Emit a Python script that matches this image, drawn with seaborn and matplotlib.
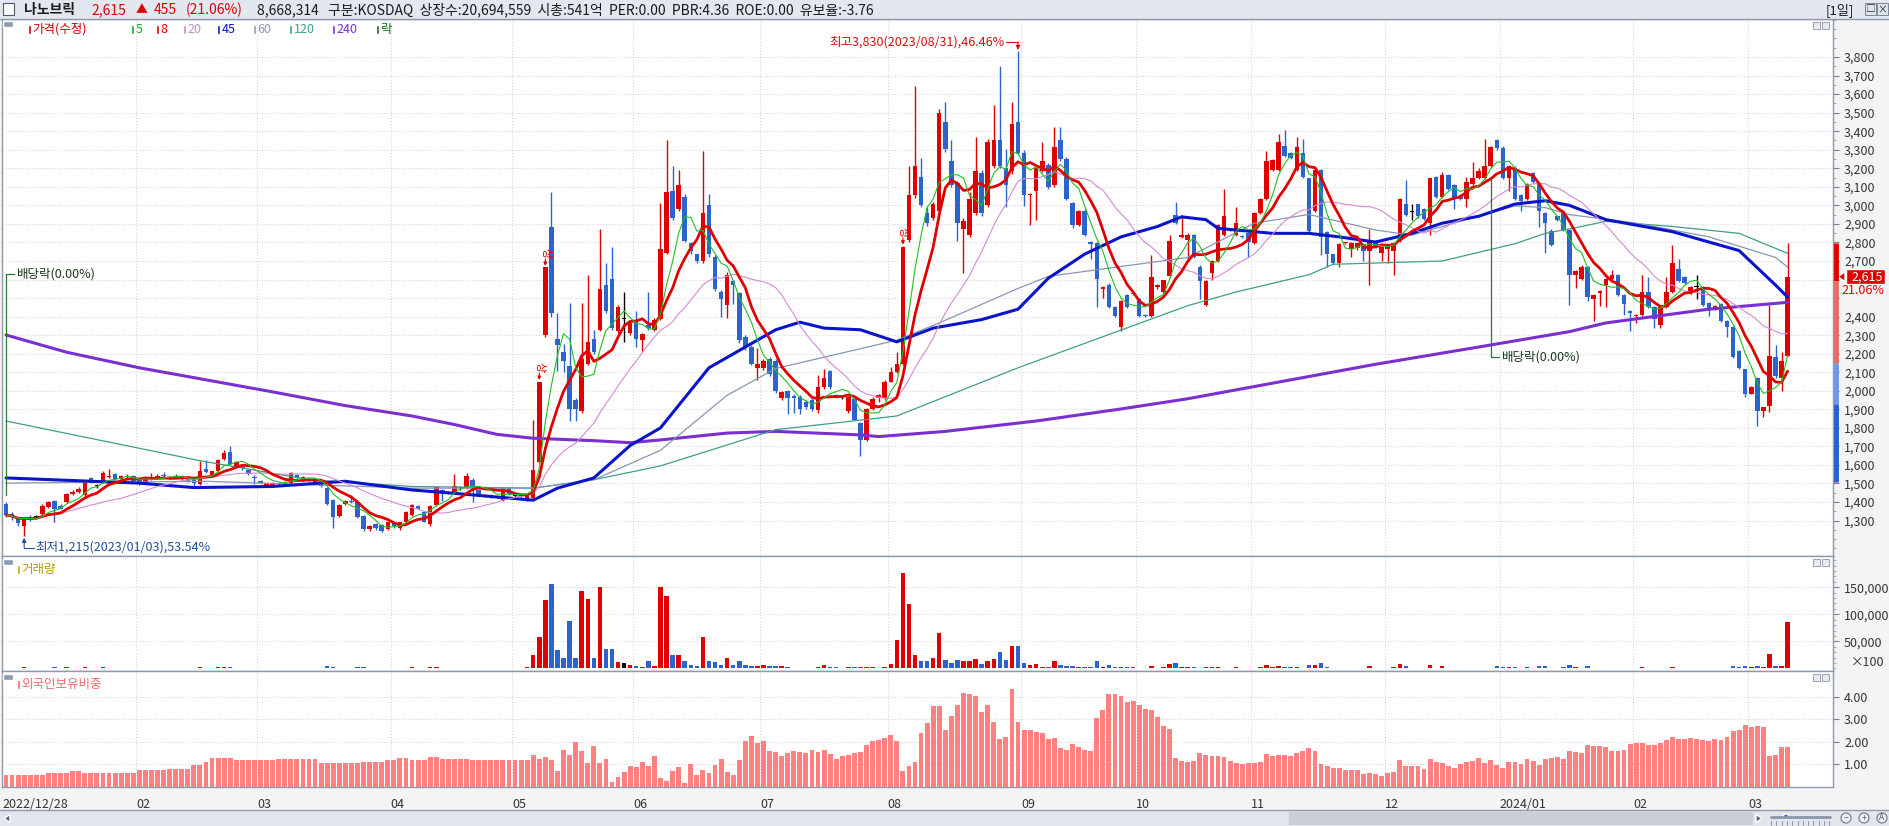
import numpy as np
import pandas as pd
import matplotlib
matplotlib.use("Agg")
import matplotlib.pyplot as plt
from matplotlib.patches import Rectangle, Polygon, Circle
from matplotlib.ticker import FixedLocator, MultipleLocator, FuncFormatter
import seaborn as sns

# ---------------- data ----------------
stock_name = "나노브릭"
header_info = "8,668,314   구분:KOSDAQ  상장수:20,694,559  시총:541억  PER:0.00  PBR:4.36  ROE:0.00  유보율:-3.76"

opens = [
    1390, 1335, 1315, 1270, 1320, 1320, 1335, 1375, 1405, 1380,
    1400, 1445, 1455, 1440, 1530, 1485, 1505, 1535, 1550, 1525,
    1535, 1540, 1520, 1500, 1525, 1535, 1545, 1530, 1535, 1540,
    1530, 1520, 1495, 1580, 1540, 1565, 1630, 1670, 1595, 1590,
    1575, 1535, 1515, 1485, 1485, 1495, 1490, 1500, 1545, 1520,
    1520, 1520, 1505, 1475, 1410, 1325, 1390, 1405, 1400, 1325,
    1255, 1280, 1275, 1255, 1285, 1260, 1290, 1330, 1380, 1345,
    1280, 1385, 1465, 1450, 1455, 1475, 1475, 1520, 1465, 1430,
    1440, 1430, 1410, 1475, 1430, 1445, 1410, 1420, 1615, 2300,
    2885, 2280, 2210, 2135, 1950, 1890, 2145, 2280, 2330, 2570,
    2605, 2320, 2385, 2310, 2375, 2275, 2355, 2330, 2385, 2745,
    3080, 2980, 3045, 2795, 2735, 2700, 3000, 2720, 2535, 2460,
    2590, 2525, 2290, 2235, 2125, 2125, 2170, 2160, 1960, 2000,
    1970, 1965, 1940, 1950, 1895, 2020, 2105, 1975, 1965, 1890,
    1955, 1825, 1735, 1900, 1960, 1960, 2050, 2100, 2145, 2815,
    3055, 3155, 2960, 2930, 2970, 3450, 3240, 3120, 2875, 2840,
    2960, 3175, 3000, 3210, 3350, 3200, 3185, 3450, 3285, 3055,
    3080, 3185, 3220, 3110, 3350, 3250, 3015, 2895, 2970, 2800,
    2795, 2550, 2570, 2450, 2345, 2515, 2525, 2495, 2410, 2405,
    2560, 2535, 2620, 2950, 2830, 2815, 2840, 2670, 2460, 2635,
    2700, 2840, 2875, 2840, 2835, 2850, 2795, 2960, 3035, 3190,
    3190, 3320, 3285, 3190, 3285, 3145, 2970, 3190, 2855, 2735,
    2690, 2795, 2765, 2770, 2790, 2755, 2810, 2745, 2765, 2755,
    2810, 3005, 2965, 3005, 2980, 2905, 3155, 3045, 3165, 3110,
    3050, 3035, 3115, 3145, 3145, 3210, 3350, 3310, 3145, 3200,
    3055, 3035, 3175, 3120, 2960, 2860, 2940, 2960, 2865, 2625,
    2605, 2670, 2495, 2525, 2570, 2605, 2625, 2515, 2430, 2405,
    2410, 2535, 2450, 2355, 2450, 2535, 2655, 2615, 2525, 2560,
    2560, 2475, 2440, 2470, 2375, 2345, 2215, 2115, 1985, 2070,
    1890, 1920, 2180, 2070, 2190,
]
highs = [
    1400, 1345, 1320, 1320, 1330, 1330, 1390, 1405, 1410, 1390,
    1450, 1465, 1480, 1510, 1535, 1495, 1565, 1580, 1555, 1545,
    1550, 1545, 1525, 1535, 1555, 1550, 1560, 1540, 1550, 1545,
    1535, 1525, 1620, 1625, 1570, 1630, 1680, 1700, 1620, 1600,
    1580, 1545, 1520, 1505, 1510, 1510, 1515, 1560, 1550, 1540,
    1530, 1525, 1510, 1480, 1415, 1390, 1410, 1440, 1405, 1330,
    1275, 1285, 1280, 1295, 1290, 1295, 1350, 1390, 1385, 1350,
    1385, 1485, 1470, 1460, 1550, 1485, 1555, 1530, 1470, 1445,
    1445, 1435, 1480, 1480, 1440, 1450, 1440, 1845, 2050, 2665,
    3070, 2420, 2250, 2475, 1960, 2475, 2625, 2330, 2875, 2690,
    2775, 2460, 2535, 2375, 2430, 2310, 2535, 2390, 3015, 3350,
    3210, 3190, 3060, 2800, 2740, 3295, 3060, 2730, 2545, 2640,
    2600, 2535, 2300, 2245, 2230, 2170, 2180, 2170, 2000, 2005,
    1980, 1975, 1950, 1960, 2085, 2115, 2110, 1980, 1975, 1970,
    1960, 1830, 1905, 1965, 1980, 2060, 2130, 2210, 2780, 3210,
    3645, 3255, 2990, 3020, 3520, 3555, 3350, 3130, 2930, 3070,
    3370, 3190, 3360, 3540, 3750, 3305, 3555, 3830, 3300, 3065,
    3210, 3340, 3230, 3425, 3425, 3260, 3020, 2975, 2980, 2810,
    2800, 2565, 2580, 2455, 2490, 2520, 2530, 2500, 2415, 2730,
    2575, 2600, 2840, 3020, 2950, 2850, 2845, 2680, 2595, 2705,
    2900, 3090, 2880, 2990, 2840, 2855, 2965, 3040, 3295, 3250,
    3385, 3405, 3290, 3370, 3360, 3150, 3195, 3195, 2860, 2740,
    2795, 2805, 2800, 2800, 2795, 2870, 2815, 2780, 2780, 2800,
    3040, 3135, 3010, 3010, 2985, 3150, 3160, 3180, 3170, 3115,
    3060, 3155, 3235, 3200, 3360, 3320, 3360, 3320, 3215, 3210,
    3060, 3120, 3180, 3125, 2965, 2870, 2945, 2970, 2870, 2650,
    2680, 2675, 2520, 2545, 2610, 2650, 2630, 2520, 2435, 2415,
    2625, 2615, 2455, 2455, 2615, 2785, 2710, 2620, 2565, 2625,
    2565, 2480, 2460, 2475, 2380, 2350, 2220, 2120, 2025, 2075,
    1915, 2460, 2245, 2210, 2795,
]
lows = [
    1320, 1305, 1270, 1215, 1300, 1310, 1330, 1370, 1290, 1360,
    1395, 1440, 1450, 1435, 1500, 1475, 1500, 1530, 1520, 1520,
    1530, 1510, 1490, 1495, 1520, 1530, 1535, 1525, 1530, 1520,
    1510, 1475, 1490, 1555, 1535, 1560, 1625, 1600, 1590, 1575,
    1545, 1495, 1500, 1480, 1480, 1485, 1485, 1495, 1525, 1515,
    1515, 1495, 1480, 1385, 1260, 1320, 1385, 1395, 1315, 1245,
    1245, 1250, 1240, 1250, 1260, 1250, 1285, 1325, 1360, 1290,
    1270, 1380, 1405, 1445, 1450, 1465, 1470, 1400, 1440, 1425,
    1420, 1420, 1405, 1440, 1415, 1425, 1405, 1415, 1610, 2290,
    2400, 2105, 2100, 1835, 1835, 1880, 2140, 2200, 2320, 2420,
    2330, 2310, 2265, 2300, 2235, 2215, 2330, 2320, 2380, 2740,
    2920, 2970, 2800, 2740, 2690, 2690, 2720, 2540, 2400, 2390,
    2470, 2260, 2220, 2140, 2060, 2110, 2080, 1990, 1950, 1875,
    1880, 1875, 1900, 1890, 1880, 2010, 2010, 1960, 1955, 1880,
    1840, 1650, 1730, 1895, 1940, 1950, 2045, 2095, 2140, 2800,
    3040, 2990, 2890, 2920, 2960, 3290, 3100, 2810, 2635, 2830,
    2950, 2940, 2990, 3200, 3200, 2990, 3170, 3270, 2995, 2895,
    2920, 3180, 3090, 3100, 3240, 3030, 2880, 2890, 2835, 2710,
    2450, 2500, 2445, 2400, 2320, 2445, 2515, 2400, 2400, 2400,
    2550, 2530, 2615, 2900, 2825, 2700, 2715, 2495, 2455, 2600,
    2695, 2835, 2860, 2835, 2825, 2720, 2790, 2955, 3030, 3185,
    3185, 3260, 3250, 3185, 3150, 2855, 2965, 2730, 2670, 2685,
    2670, 2790, 2720, 2760, 2700, 2570, 2770, 2700, 2690, 2625,
    2805, 2945, 2920, 2930, 2920, 2840, 3040, 3040, 3085, 2980,
    3030, 2990, 3110, 3140, 3140, 3205, 3300, 3140, 3080, 3030,
    2970, 3030, 3120, 2885, 2745, 2780, 2915, 2860, 2460, 2555,
    2600, 2485, 2375, 2455, 2450, 2600, 2510, 2410, 2320, 2365,
    2405, 2445, 2340, 2340, 2445, 2530, 2585, 2575, 2520, 2495,
    2455, 2405, 2435, 2370, 2290, 2175, 2120, 1965, 1980, 1810,
    1860, 1885, 2070, 2000, 2185,
]
closes = [
    1330, 1320, 1285, 1310, 1310, 1320, 1380, 1400, 1360, 1365,
    1445, 1455, 1470, 1500, 1505, 1485, 1555, 1540, 1525, 1540,
    1540, 1515, 1495, 1530, 1535, 1540, 1540, 1530, 1540, 1530,
    1515, 1500, 1565, 1560, 1565, 1625, 1665, 1605, 1615, 1585,
    1550, 1530, 1505, 1500, 1500, 1505, 1505, 1555, 1530, 1535,
    1525, 1500, 1485, 1390, 1320, 1385, 1405, 1400, 1320, 1255,
    1270, 1260, 1245, 1290, 1270, 1290, 1345, 1385, 1365, 1295,
    1380, 1480, 1455, 1455, 1485, 1475, 1540, 1475, 1445, 1440,
    1425, 1425, 1475, 1445, 1430, 1430, 1435, 1575, 2050, 2665,
    2420, 2245, 2160, 1900, 1900, 2170, 2265, 2210, 2550, 2430,
    2340, 2450, 2385, 2365, 2280, 2305, 2340, 2380, 2765, 3070,
    2930, 3110, 2810, 2755, 2700, 2960, 2735, 2550, 2495, 2625,
    2570, 2275, 2235, 2145, 2145, 2160, 2090, 2000, 1995, 1960,
    1960, 1900, 1915, 1900, 2020, 2070, 2020, 1965, 1965, 1965,
    1845, 1735, 1900, 1955, 1975, 2050, 2100, 2145, 2775, 3055,
    3210, 3000, 2905, 3005, 3500, 3305, 3110, 2905, 2915, 3035,
    3185, 2960, 3340, 3350, 3210, 3110, 3440, 3285, 3055, 3060,
    3200, 3240, 3100, 3315, 3250, 3035, 2895, 2970, 2840, 2790,
    2605, 2560, 2450, 2405, 2485, 2450, 2520, 2405, 2405, 2615,
    2570, 2595, 2810, 2905, 2840, 2840, 2720, 2590, 2590, 2700,
    2895, 2940, 2865, 2905, 2830, 2800, 2960, 3035, 3240, 3245,
    3340, 3265, 3255, 3315, 3155, 2860, 3190, 2830, 2740, 2690,
    2790, 2800, 2795, 2795, 2755, 2810, 2775, 2775, 2775, 2795,
    3035, 2950, 2965, 2940, 2925, 3145, 3045, 3165, 3090, 3035,
    3035, 3125, 3145, 3185, 3210, 3315, 3310, 3145, 3210, 3035,
    3025, 3115, 3125, 2970, 2905, 2785, 2920, 2865, 2625, 2645,
    2670, 2505, 2515, 2540, 2605, 2625, 2515, 2470, 2420, 2410,
    2535, 2450, 2385, 2450, 2535, 2690, 2590, 2580, 2560, 2560,
    2460, 2440, 2455, 2375, 2345, 2180, 2125, 1985, 2020, 1890,
    1910, 2190, 2080, 2160, 2615,
]
# volume in units of 100 shares
volumes = [
    1800, 1200, 1500, 2000, 1300, 1000, 1400, 1600, 2200, 1100,
    1900, 1500, 1400, 2100, 1600, 900, 2300, 1700, 1200, 1300,
    1100, 1200, 1400, 1300, 1500, 1000, 1100, 900, 1200, 1000,
    1100, 1300, 2600, 1800, 1400, 1900, 2200, 2500, 1200, 1000,
    1100, 1300, 1000, 900, 1000, 1100, 900, 1600, 1100, 1000,
    900, 1000, 1200, 4800, 3500, 1600, 1200, 1400, 1900, 2100,
    1200, 1000, 1300, 1400, 1100, 1300, 1800, 1900, 1200, 1300,
    2200, 2600, 1500, 1100, 1700, 1000, 1600, 1500, 1100, 900,
    1000, 900, 1400, 1200, 1000, 1100, 2000, 24000, 59000, 127000,
    155000, 34000, 20000, 87000, 20000, 143000, 129000, 20000, 151000, 36000,
    36000, 12000, 10000, 7000, 5000, 3000, 14000, 5000, 151000, 134000,
    25000, 25000, 14000, 7000, 5000, 58000, 14000, 12000, 7000, 20000,
    7000, 13000, 7000, 5000, 5000, 7000, 4000, 4000, 5000, 2000,
    1500, 1800, 1200, 1400, 2500, 7000, 3000, 2000, 1500, 2500,
    2200, 3500, 3000, 2000, 1800, 2500, 9000, 52000, 177000, 119000,
    25000, 13000, 13000, 20000, 66000, 16000, 11000, 16000, 13000, 13000,
    18000, 9000, 13000, 18000, 31000, 16000, 41000, 41000, 10000, 7000,
    9000, 3000, 2500, 14000, 7000, 5000, 5000, 2000, 2000, 2500,
    13000, 3000, 7000, 2000, 3000, 2500, 2000, 1500, 1800, 5000,
    1500, 2000, 9000, 11000, 2000, 2500, 2000, 1500, 2000, 2500,
    3000, 1500, 1200, 2000, 1500, 1200, 1500, 2000, 7000, 3000,
    4000, 3000, 2000, 3000, 1500, 7000, 7000, 11000, 3000, 1500,
    1200, 1000, 1200, 1000, 1300, 4000, 1200, 1500, 1200, 2000,
    8000, 4000, 1500, 1500, 1200, 7000, 1500, 4000, 1500, 1500,
    1200, 1500, 1200, 1500, 1800, 1500, 4000, 2000, 3000, 3000,
    1500, 3000, 1500, 5000, 5000, 1500, 1200, 2000, 7000, 2000,
    1500, 5000, 1800, 1500, 1500, 1200, 1500, 1500, 1800, 1200,
    2000, 1500, 1500, 1200, 1500, 2500, 1500, 1200, 1200, 1000,
    1500, 1200, 1000, 1500, 1800, 4000, 2000, 4000, 2000, 4000,
    2000, 26000, 4000, 4000, 86683,
]
# foreign ownership ratio (%)
foreign = [
    0.50, 0.50, 0.50, 0.50, 0.50, 0.50, 0.50, 0.58, 0.62, 0.62,
    0.62, 0.68, 0.68, 0.62, 0.62, 0.62, 0.62, 0.62, 0.62, 0.62,
    0.62, 0.62, 0.74, 0.74, 0.74, 0.74, 0.74, 0.80, 0.80, 0.80,
    0.80, 0.94, 0.94, 1.08, 1.26, 1.26, 1.26, 1.26, 1.16, 1.16,
    1.16, 1.16, 1.16, 1.16, 1.16, 1.24, 1.24, 1.24, 1.24, 1.24,
    1.24, 1.24, 1.04, 1.04, 1.04, 1.04, 1.04, 1.04, 1.04, 1.08,
    1.08, 1.08, 1.08, 1.20, 1.20, 1.28, 1.28, 1.16, 1.16, 1.16,
    1.32, 1.32, 1.24, 1.24, 1.24, 1.24, 1.24, 1.16, 1.16, 1.16,
    1.16, 1.16, 1.16, 1.16, 1.16, 1.16, 1.16, 1.40, 1.24, 1.32,
    1.16, 0.68, 1.64, 1.40, 2.00, 1.58, 1.04, 1.82, 1.04, 1.22,
    0.20, 0.44, 0.64, 0.92, 0.86, 1.08, 0.90, 1.38, 0.40, 0.26,
    0.68, 0.86, 0.14, 1.00, 0.52, 0.75, 0.60, 0.96, 1.22, 0.66,
    0.51, 1.18, 2.03, 2.25, 1.94, 2.03, 1.58, 1.54, 1.36, 1.49,
    1.58, 1.54, 1.49, 1.63, 1.54, 1.63, 1.45, 1.22, 1.36, 1.40,
    1.49, 1.54, 1.85, 2.03, 2.07, 2.16, 2.30, 2.03, 0.69, 0.91,
    1.09, 2.39, 2.84, 3.60, 3.60, 2.52, 3.15, 3.64, 4.18, 4.13,
    4.04, 3.33, 3.64, 2.88, 2.12, 2.21, 4.36, 2.88, 2.52, 2.52,
    2.43, 2.39, 2.12, 2.16, 1.72, 1.63, 1.90, 1.76, 1.63, 1.58,
    3.06, 3.42, 4.13, 4.13, 4.04, 3.78, 3.82, 3.64, 3.46, 3.42,
    3.10, 2.70, 2.57, 1.27, 1.13, 1.09, 1.13, 1.49, 1.40, 1.36,
    1.36, 1.31, 1.13, 1.04, 1.00, 1.04, 1.04, 1.09, 1.45, 1.36,
    1.40, 1.40, 1.37, 1.51, 1.60, 1.72, 1.58, 1.00, 0.91, 0.82,
    0.82, 0.73, 0.73, 0.73, 0.55, 0.60, 0.55, 0.46, 0.60, 0.64,
    1.18, 0.91, 0.91, 0.91, 0.78, 1.22, 1.09, 1.04, 0.91, 0.82,
    1.00, 1.09, 1.13, 1.27, 1.04, 1.18, 0.96, 0.82, 1.09, 1.09,
    1.00, 1.22, 1.13, 0.96, 1.22, 1.27, 1.31, 1.22, 1.58, 1.54,
    1.49, 1.85, 1.81, 1.81, 1.76, 1.58, 1.58, 1.63, 1.90, 1.94,
    1.94, 1.85, 1.85, 1.94, 2.07, 2.21, 2.12, 2.12, 2.16, 2.12,
    2.07, 2.03, 2.12, 2.07, 2.21, 2.48, 2.52, 2.75, 2.66, 2.70,
    2.66, 1.36, 1.40, 1.76, 1.76,
]

# long moving averages, read at sample candles (their history starts before the window)
ma45_idx = [0, 22, 31, 44, 56, 67, 74, 87, 91, 97, 103, 108, 116, 122, 127, 131, 135, 141,
            147, 153, 161, 167, 172, 178, 184, 190, 194, 198, 200, 203, 209, 215, 220, 226,
            232, 237, 243, 249, 254, 258, 264, 275, 286, 292, 294]
ma45_val = [1530, 1502, 1478, 1484, 1512, 1465, 1447, 1410, 1475, 1530, 1705, 1800, 2124,
            2236, 2329, 2370, 2338, 2329, 2264, 2338, 2384, 2440, 2607, 2737, 2830, 2886,
            2938, 2923, 2876, 2867, 2849, 2849, 2830, 2802, 2849, 2904, 2941, 3007, 3025,
            3000, 2923, 2858, 2756, 2570, 2505]
ma60_idx = [0, 33, 67, 87, 97, 108, 119, 127, 147, 154, 167, 172, 195, 206, 215, 226, 232,
            237, 249, 254, 258, 269, 281, 292, 294]
ma60_val = [1502, 1512, 1475, 1475, 1520, 1679, 1976, 2120, 2273, 2366, 2552, 2617, 2719,
            2904, 2951, 2867, 2839, 2886, 2997, 2988, 2950, 2904, 2830, 2719, 2667]
ma120_idx = [0, 32, 50, 67, 87, 97, 108, 127, 147, 167, 195, 203, 215, 219, 237, 249, 254,
             260, 264, 275, 286, 294]
ma120_val = [1837, 1623, 1521, 1484, 1475, 1520, 1595, 1790, 1864, 2124, 2459, 2533, 2626,
             2682, 2700, 2793, 2849, 2886, 2914, 2886, 2849, 2741]
ma240_idx = [0, 10, 22, 33, 44, 56, 67, 74, 81, 87, 97, 103, 108, 119, 127, 141, 144, 155,
             170, 184, 195, 209, 226, 243, 258, 264, 281, 294]
ma240_val = [2301, 2208, 2124, 2059, 1994, 1920, 1864, 1818, 1765, 1744, 1731, 1720, 1735,
             1772, 1781, 1762, 1753, 1781, 1837, 1902, 1957, 2041, 2143, 2236, 2319, 2366,
             2440, 2477]

month_labels = ["2022/12/28", "02", "03", "04", "05", "06", "07", "08", "09", "10", "11",
                "12", "2024/01", "02", "03"]
month_start = [0, 22, 42, 64, 84, 104, 125, 146, 168, 187, 206, 228, 247, 269, 288]

exdiv_idx = [0, 245]
limit_up_idx = [88, 89, 148]
low_note = "최저1,215(2023/01/03),53.54%"
high_note = "최고3,830(2023/08/31),46.46%"

assert all(len(a) == 295 for a in [opens, highs, lows, closes, volumes, foreign])

# ---------------- style ----------------
RED = "#e00000"
BLUE = "#2a64cc"
GRID = "#cfcfcf"
SPINE = "#8e9aac"

sns.set_style("white")
plt.rcParams["font.family"] = ["Noto Sans CJK KR", "DejaVu Sans"]
plt.rcParams["axes.unicode_minus"] = False

W, H = 1889, 826
PL, PR = 2, 1833
P_TOP, P_BOT, V_BOT, F_BOT = 19, 556, 671, 787
STEP, X0 = 6.06, 6.0
XL, XR = (PL - X0) / STEP, (PR - X0) / STEP
PMIN, PMAX = 1109, 4005

fig = plt.figure(figsize=(W / 100, H / 100), dpi=100)
fig.patch.set_facecolor("#f4f4f4")


def rect(x0, y0, x1, y1):
    return [x0 / W, 1 - y1 / H, (x1 - x0) / W, (y1 - y0) / H]


ax_p = fig.add_axes(rect(PL, P_TOP, PR, P_BOT))
ax_v = fig.add_axes(rect(PL, P_BOT, PR, V_BOT))
ax_f = fig.add_axes(rect(PL, V_BOT, PR, F_BOT))
ax_o = fig.add_axes([0, 0, 1, 1], zorder=10)
ax_o.set_xlim(0, W)
ax_o.set_ylim(H, 0)
ax_o.axis("off")


def py(p):
    return P_TOP + (PMAX - p) / (PMAX - PMIN) * (P_BOT - P_TOP)


df = pd.DataFrame({"open": opens, "high": highs, "low": lows, "close": closes,
                   "volume": volumes, "foreign": foreign})
df["i"] = np.arange(len(df))
colors = np.where(df.close > df.open, RED, np.where(df.close < df.open, BLUE, "black"))
for w in (5, 8, 20):
    df[f"ma{w}"] = df.close.rolling(w, min_periods=1).mean()

# ---------------- price panel ----------------
ax_p.vlines(df.i, df.low, df.high, colors=colors, lw=1.0, zorder=2)
body_lo = np.minimum(df.open, df.close)
body_h = np.maximum((df.close - df.open).abs(), 6)
ax_p.bar(df.i, body_h, bottom=body_lo, width=0.74, color=colors, linewidth=0, zorder=2)

sns.lineplot(x=ma240_idx, y=ma240_val, ax=ax_p, color="#7a2fd0", linewidth=2.2,
             estimator=None, legend=False, zorder=3)
sns.lineplot(x=ma120_idx, y=ma120_val, ax=ax_p, color="#3f9e8a", linewidth=0.9,
             estimator=None, legend=False, zorder=3)
sns.lineplot(x=ma60_idx, y=ma60_val, ax=ax_p, color="#8796b4", linewidth=0.9,
             estimator=None, legend=False, zorder=3)
sns.lineplot(x=ma45_idx, y=ma45_val, ax=ax_p, color="#0a14c8", linewidth=2.2,
             estimator=None, legend=False, zorder=3)
sns.lineplot(data=df, x="i", y="ma20", ax=ax_p, color="#d58ad5", linewidth=0.8,
             estimator=None, legend=False, zorder=3)
sns.lineplot(data=df, x="i", y="ma8", ax=ax_p, color="#e00000", linewidth=2.0,
             estimator=None, legend=False, zorder=3)
sns.lineplot(data=df, x="i", y="ma5", ax=ax_p, color="#20c020", linewidth=0.8,
             estimator=None, legend=False, zorder=3)

ax_p.set_ylim(PMIN, PMAX)
ax_p.yaxis.set_major_locator(FixedLocator(list(range(1300, 3900, 100))))
ax_p.yaxis.set_minor_locator(MultipleLocator(50))
# tick labels hidden under the current-price marker are left blank, as in the chart
ax_p.yaxis.set_major_formatter(
    FuncFormatter(lambda v, p: "" if -140 < v - closes[-1] < 60 else f"{v:,.0f}"))

# ex-dividend markers
dg = "#2a7a2a"
i0 = exdiv_idx[0]
ax_p.plot([i0, i0], [highs[i0] + 40, 2631], color=dg, lw=0.9, zorder=4)
ax_p.plot([i0, i0 + 1.4], [2631, 2631], color=dg, lw=0.9, zorder=4)
ax_p.text(i0 + 1.8, 2631, "배당락(0.00%)", fontsize=9, color="#1b3a1b", va="center", zorder=4)
i1 = exdiv_idx[1]
ax_p.plot([i1, i1], [lows[i1] - 60, 2180], color=dg, lw=0.9, zorder=4)
ax_p.plot([i1, i1 + 1.4], [2180, 2180], color=dg, lw=0.9, zorder=4)
ax_p.text(i1 + 1.8, 2180, "배당락(0.00%)", fontsize=9, color="#1b3a1b", va="center", zorder=4)

# lowest / highest notes
il = int(np.argmin(lows))
ax_p.annotate("", xy=(il, lows[il] - 8), xytext=(il, 1152),
              arrowprops=dict(arrowstyle="-|>", color="#1f4e9c", lw=0.8, mutation_scale=6,
                              shrinkA=0, shrinkB=0))
ax_p.plot([il, il + 1.6], [1152, 1152], color="#1f4e9c", lw=0.8)
ax_p.text(il + 1.9, 1155, low_note, fontsize=9, color="#1f4e9c", va="center")
ih = int(np.argmax(highs))
ax_p.plot([ih - 2.0, ih], [3880, 3880], color="#d01010", lw=0.8)
ax_p.annotate("", xy=(ih, highs[ih] + 8), xytext=(ih, 3880),
              arrowprops=dict(arrowstyle="-|>", color="#d01010", lw=0.8, mutation_scale=6,
                              shrinkA=0, shrinkB=0))
ax_p.text(ih - 2.3, 3880, high_note, fontsize=9, color="#d01010", va="center", ha="right")

# upper-limit markers (rotated 상 with a down arrow)
for k in limit_up_idx:
    ax_p.annotate("", xy=(k, highs[k] + 8), xytext=(k, highs[k] + 45),
                  arrowprops=dict(arrowstyle="-|>", color=RED, lw=0.8, mutation_scale=5,
                                  shrinkA=0, shrinkB=0))
    ax_p.text(k, highs[k] + 48, "상", fontsize=8, color=RED, ha="center", va="bottom",
              rotation=-90)

# ---------------- volume panel ----------------
ax_v.bar(df.i, df.volume, width=0.74, color=colors, linewidth=0)
ax_v.set_ylim(-4613, 207565)
ax_v.yaxis.set_major_locator(FixedLocator([50000, 100000, 150000]))
ax_v.yaxis.set_minor_locator(MultipleLocator(10000))
ax_v.yaxis.set_major_formatter(FuncFormatter(lambda v, p: f"{v:,.0f}"))

# ---------------- foreign ownership panel ----------------
ax_f.bar(df.i, df.foreign, width=0.8, color="#ff8080", linewidth=0)
ax_f.set_ylim(-0.022, 5.15)
ax_f.yaxis.set_major_locator(FixedLocator([1, 2, 3, 4]))
ax_f.yaxis.set_major_formatter(FuncFormatter(lambda v, p: f"{v:.2f}"))

# ---------------- common axis styling ----------------
for ax in (ax_p, ax_v, ax_f):
    ax.set_xlim(XL, XR)
    ax.set_xlabel("")
    ax.set_ylabel("")
    ax.set_facecolor("white")
    ax.yaxis.tick_right()
    ax.tick_params(axis="y", which="major", direction="out", length=4, width=0.8,
                   color="#808080", labelsize=9, labelcolor="#333333", pad=4)
    ax.tick_params(axis="y", which="minor", direction="out", length=2, width=0.6,
                   color="#a0a0a0")
    ax.grid(axis="y", which="major", color=GRID, ls=(0, (1, 2)), lw=0.7)
    for m in month_start[1:]:
        ax.axvline(m - 0.5, color=GRID, ls=(0, (1, 2)), lw=0.7, zorder=0)
    for s in ax.spines.values():
        s.set_color(SPINE)
        s.set_linewidth(1.0)
    ax.set_axisbelow(True)

for ax in (ax_p, ax_v):
    ax.tick_params(axis="x", bottom=False, labelbottom=False)
ax_f.set_xticks([m - 0.5 for m in month_start])
ax_f.set_xticklabels(month_labels, fontsize=9, color="#333333", ha="left")
ax_f.tick_params(axis="x", direction="out", length=7, width=0.8, color="#909090", pad=1)

# ---------------- header bar ----------------
ax_o.add_patch(Rectangle((0, 0), W, 19, fc="#e3e8f0", ec="none"))
ax_o.plot([0, W], [19, 19], color=SPINE, lw=1)
ax_o.add_patch(Rectangle((3, 3), 11, 12, fc="white", ec="#4a5a70", lw=0.8))
ax_o.text(24, 10, stock_name, fontsize=10, fontweight="bold", color="#1a1a1a", va="center")
chg = closes[-1] - closes[-2]
pct = chg / closes[-2] * 100
ax_o.text(91, 10, f"{closes[-1]:,}", fontsize=10, color=RED, va="center")
ax_o.text(136, 10, "▲", fontsize=8.5, color=RED, va="center")
ax_o.text(154, 10, f"{chg:,}", fontsize=10, color=RED, va="center")
ax_o.text(186, 10, f"({pct:.2f}%)", fontsize=10, color=RED, va="center")
ax_o.text(257, 10, header_info, fontsize=10, color="#1a1a1a", va="center")
ax_o.text(1826, 10, "[1일]", fontsize=9.5, color="#1a1a1a", va="center")
for bx, sym in ((1865, "□"), (1877, "×")):
    ax_o.add_patch(Rectangle((bx, 3), 11, 12, fc="#dfe4ec", ec="#7a8699", lw=0.7))
    ax_o.text(bx + 5.5, 9.5, sym, fontsize=7, color="#2a2a2a", ha="center", va="center")

# panel legends
ax_o.add_patch(Rectangle((3, 21), 10, 6, fc="#8a9ab0"))
legend_items = [(28, "가격(수정)", "#d00000"), (131, "5", "#10b010"), (156, "8", "#e00000"),
                (183, "20", "#c78ac7"), (217, "45", "#0a14c8"), (253, "60", "#8a9cb6"),
                (289, "120", "#3f9e8a"), (332, "240", "#7a2fd0"), (376, "락", "#107010")]
for lx, lab, c in legend_items:
    ax_o.add_patch(Rectangle((lx, 25), 3, 9, fc=c))
    ax_o.text(lx + 4.5, 29.5, lab, fontsize=9, color=c, va="center")
ax_o.add_patch(Rectangle((3, 559), 10, 6, fc="#8a9ab0"))
ax_o.add_patch(Rectangle((17, 565), 3, 9, fc="#c8a800"))
ax_o.text(21.5, 569.5, "거래량", fontsize=9, color="#b89a00", va="center")
ax_o.add_patch(Rectangle((3, 674), 10, 6, fc="#8a9ab0"))
ax_o.add_patch(Rectangle((17, 680), 3, 9, fc="#f06a6a"))
ax_o.text(21.5, 684.5, "외국인보유비중", fontsize=9, color="#f06a6a", va="center")

# small panel buttons
for by in (22, 559, 674):
    for bx in (1813, 1822):
        ax_o.add_patch(Rectangle((bx, by), 7, 7, fc="#e8ebf0", ec="#8a96a8", lw=0.6))

# right-side current price marker and band
y_last = py(closes[-1])
band = [(highs[-1], 2590, "#e00000"), (2590, 2150, "#e86a6a"),
        (2150, 1930, "#6e98e0"), (1930, 1507, "#2a5fcc")]
for top, bot, c in band:
    ax_o.plot([1835.5, 1835.5], [py(top), py(bot)], color=c, lw=3.5, solid_capstyle="butt")
ax_o.add_patch(Polygon([(1838, y_last), (1845, y_last - 5), (1845, y_last + 5)], fc=RED))
ax_o.add_patch(Rectangle((1846, y_last - 7.5), 39, 15, fc=RED))
ax_o.text(1883, y_last, f"{closes[-1]:,}", fontsize=9, color="white", ha="right", va="center")
ax_o.text(1884, y_last + 14, f"{pct:.2f}%", fontsize=9, color=RED, ha="right", va="center")
ax_o.text(1884, 662.5, "×100", fontsize=9, color="#333333", ha="right", va="center")

# ---------------- bottom scrollbar ----------------
ax_o.plot([0, W], [810, 810], color=SPINE, lw=1)
ax_o.add_patch(Rectangle((0, 811), W, 15, fc="#e2e6ec", ec="none"))
ax_o.add_patch(Rectangle((1289, 812), 464, 13, fc="#c9ced8", ec="none"))
ax_o.add_patch(Polygon([(4, 818.5), (10, 814.5), (10, 822.5)], fc="#55657c"))
ax_o.add_patch(Polygon([(1762, 818.5), (1756, 814.5), (1756, 822.5)], fc="#55657c"))
ax_o.plot([1771, 1830], [816.5, 816.5], color="#8a96a8", lw=2)
ax_o.add_patch(Circle((1786, 816.5), 2.6, fc="#2a64cc"))
for k in range(12):
    ax_o.plot([1771 + k * 5.3, 1771 + k * 5.3], [821, 825], color="#7a869a", lw=0.6)
for cx, sym in ((1846, "−"), (1864, "+"), (1882, "A")):
    ax_o.add_patch(Circle((cx, 818), 5, fc="#eef0f4", ec="#6a7688", lw=0.8))
    ax_o.text(cx, 818, sym, fontsize=6, color="#4a5668", ha="center", va="center")

fig.savefig("out.png", dpi=100, facecolor=fig.get_facecolor())
